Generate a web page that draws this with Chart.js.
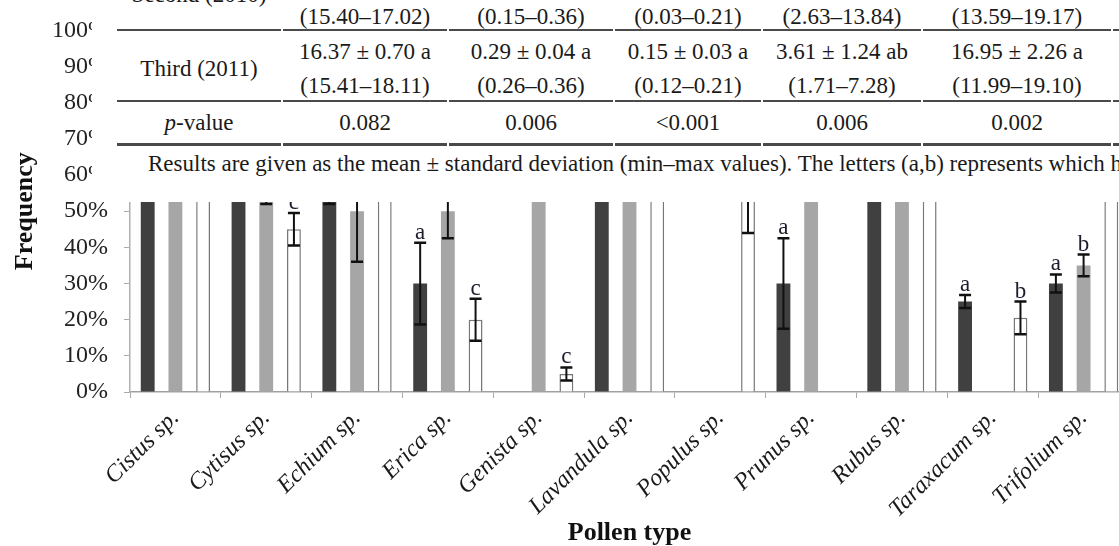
<!DOCTYPE html>
<html>
<head>
<meta charset="utf-8">
<script src="https://cdn.jsdelivr.net/npm/chart.js@4.4.1/dist/chart.umd.min.js"></script>
<style>
  html, body { margin: 0; padding: 0; background: #fff; overflow: hidden; }
  body { width: 1119px; height: 546px; position: relative; }
  #wrap { position: absolute; left: 0; top: 0; width: 1135px; height: 546px; }
  #overlay { position: absolute; left: 92px; top: 0; width: 1027px; height: 202px; background: #fff;
             overflow: hidden; font-family: "Liberation Serif", "Times New Roman", serif; font-size: 23px; color: #1a1a1a; }
  .t { position: absolute; white-space: nowrap; transform: translate(-50%, -50%); line-height: 1; }
  .rule { position: absolute; background: #4a4a4a; }
</style>
</head>
<body>
<div id="wrap"><canvas id="freqChart"></canvas></div>
<div id="overlay"></div>
<script>
// chart data
const pollenTypes = ["Cistus sp.", "Cytisus sp.", "Echium sp.", "Erica sp.", "Genista sp.", "Lavandula sp.",
                     "Populus sp.", "Prunus sp.", "Rubus sp.", "Taraxacum sp.", "Trifolium sp."];
const yearLabels = ["2009", "2010", "2011"];
const freq2009 = [100, 90, 62, 30, 0, 80, 0, 30, 100, 25, 30];
const freq2010 = [90, 70, 50, 50, 75, 85, 0, 70, 95, 0, 35];
const freq2011 = [95, 45, 80, 20, 5, 85, 55, 0, 90, 20.5, 70];
const err2009 = [0, 10, 10, 11.3, 0, 10, 0, 12.5, 0, 1.8, 2.5];
const err2010 = [5, 18, 14, 7.5, 10, 8, 0, 10, 4, 0, 3];
const err2011 = [3, 4.5, 10, 5.8, 1.8, 8, 11, 0, 5, 4.5, 8];
const letters2009 = ["", "", "", "a", "", "", "", "a", "", "a", "a"];
const letters2010 = ["", "", "", "", "", "", "", "", "", "", "b"];
const letters2011 = ["", "c", "", "c", "c", "", "", "", "", "b", ""];
const yTicks = [0, 10, 20, 30, 40, 50, 60, 70, 80, 90, 100];

// table text lying over the top of the chart
const secondRange = ["(15.40–17.02)", "(0.15–0.36)", "(0.03–0.21)", "(2.63–13.84)", "(13.59–19.17)"];
const thirdMean = ["16.37 ± 0.70 a", "0.29 ± 0.04 a", "0.15 ± 0.03 a", "3.61 ± 1.24 ab", "16.95 ± 2.26 a"];
const thirdRange = ["(15.41–18.11)", "(0.26–0.36)", "(0.12–0.21)", "(1.71–7.28)", "(11.99–19.10)"];
const pValues = ["0.082", "0.006", "<0.001", "0.006", "0.002"];
const footnote = "Results are given as the mean ± standard deviation (min–max values). The letters (a,b) represents which h";

function buildOverlay() {
    const box = document.getElementById("overlay");
    const off = 92;
    const colX = [199, 365, 531, 688, 842, 1017];
    const segs = [[117, 281], [283, 447], [449, 613], [615, 761], [763, 921], [923, 1111], [1113, 1130]];
    const addText = (txt, x, y, html) => {
        const s = document.createElement("span");
        s.className = "t";
        if (html) s.innerHTML = txt; else s.textContent = txt;
        s.style.left = (x - off) + "px";
        s.style.top = y + "px";
        box.appendChild(s);
    };
    const addRule = (y, h) => {
        segs.forEach(([a, b]) => {
            const r = document.createElement("div");
            r.className = "rule";
            r.style.left = (a - off) + "px";
            r.style.width = (b - a) + "px";
            r.style.top = y + "px";
            r.style.height = h + "px";
            box.appendChild(r);
        });
    };
    addText("Second (2010)", colX[0], -6);
    addText("Third (2011)", colX[0], 68);
    addText("<i>p</i>-value", colX[0], 122, true);
    for (let i = 0; i < 5; i++) {
        addText(secondRange[i], colX[i + 1], 16);
        addText(thirdMean[i], colX[i + 1], 51);
        addText(thirdRange[i], colX[i + 1], 85);
        addText(pValues[i], colX[i + 1], 122);
    }
    addRule(29, 2);
    addRule(100, 2);
    addRule(143, 2.5);
    const f = document.createElement("span");
    f.className = "t";
    f.style.transform = "translate(0, -50%)";
    f.textContent = footnote;
    f.style.left = (148 - off) + "px";
    f.style.top = "163px";
    box.appendChild(f);
}

const errorBars = {
    id: "errorBars",
    afterDatasetsDraw(chart) {
        const ctx = chart.ctx;
        const y = chart.scales.y;
        chart.data.datasets.forEach((ds, di) => {
            const meta = chart.getDatasetMeta(di);
            meta.data.forEach((bar, i) => {
                const v = ds.data[i];
                const e = ds.errors[i];
                if (!v) return;
                const x = bar.x;
                const top = y.getPixelForValue(v + e);
                const bot = y.getPixelForValue(v - e);
                ctx.save();
                if (e > 0) {
                    ctx.strokeStyle = "#111";
                    ctx.lineWidth = 2;
                    ctx.beginPath();
                    ctx.moveTo(x, top);
                    ctx.lineTo(x, bot);
                    ctx.stroke();
                    ctx.lineWidth = 2.5;
                    ctx.beginPath();
                    ctx.moveTo(x - 6, top); ctx.lineTo(x + 6, top);
                    ctx.moveTo(x - 6, bot); ctx.lineTo(x + 6, bot);
                    ctx.stroke();
                }
                const lab = ds.letters[i];
                if (lab) {
                    ctx.fillStyle = "#1c1c2e";
                    ctx.font = '23px "Liberation Serif"';
                    ctx.textAlign = "center";
                    ctx.textBaseline = "alphabetic";
                    ctx.fillText(lab, x, top - 4);
                }
                ctx.restore();
            });
        });
    }
};

const serif = '"Liberation Serif", "Times New Roman", serif';
const ctx = document.getElementById("freqChart").getContext("2d");
const chart = new Chart(ctx, {
    type: "bar",
    data: {
        labels: pollenTypes,
        datasets: [
            { label: yearLabels[0], data: freq2009, errors: err2009, letters: letters2009,
              backgroundColor: "#404040", borderWidth: 0 },
            { label: yearLabels[1], data: freq2010, errors: err2010, letters: letters2010,
              backgroundColor: "#a6a6a6", borderWidth: 0 },
            { label: yearLabels[2], data: freq2011, errors: err2011, letters: letters2011,
              backgroundColor: "#ffffff", borderColor: "#777777", borderWidth: 1.5 }
        ]
    },
    options: {
        responsive: true,
        maintainAspectRatio: false,
        animation: false,
        layout: { padding: { left: 0, top: 28, right: 6, bottom: 0 } },
        datasets: { bar: { categoryPercentage: 0.915, barPercentage: 0.5 } },
        plugins: { legend: { display: false }, tooltip: { enabled: false } },
        scales: {
            x: {
                afterFit: s => { s.height = 154; },
                grid: { drawOnChartArea: false, offset: true, tickLength: 6, color: "#aaaaaa", lineWidth: 1 },
                border: { color: "#a0a0a0", width: 1.5 },
                ticks: { minRotation: 45, maxRotation: 45, padding: 6, color: "#1a1a1a",
                         font: { family: serif, size: 24, style: "italic" } },
                title: { display: true, text: "Pollen type", color: "#111",
                         font: { family: serif, size: 26, weight: "bold", lineHeight: 1 },
                         padding: { top: 0, bottom: 0 } }
            },
            y: {
                min: 0, max: 100,
                afterFit: s => { s.width = 130; },
                afterBuildTicks: s => { s.ticks = yTicks.map(v => ({ value: v })); },
                grid: { drawOnChartArea: false, tickLength: 6, color: "#aaaaaa" },
                border: { color: "#b0b0b0", width: 1.5 },
                ticks: { padding: 16, color: "#222", font: { family: serif, size: 24 },
                         callback: v => v + "%" },
                title: { display: true, text: "Frequency", color: "#111",
                         font: { family: serif, size: 26, weight: "bold", lineHeight: 1 },
                         padding: { top: 12, bottom: 0 } }
            }
        }
    },
    plugins: [errorBars]
});

buildOverlay();
</script>
</body>
</html>
